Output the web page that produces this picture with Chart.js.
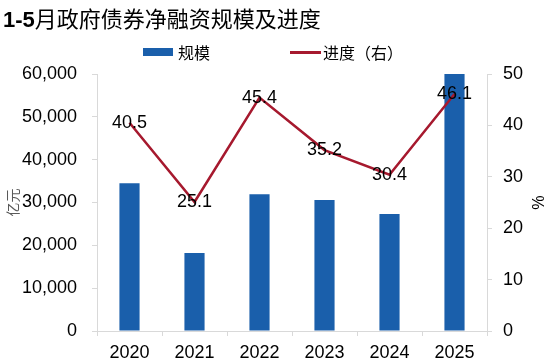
<!DOCTYPE html>
<html>
<head>
<meta charset="utf-8">
<script src="https://cdn.jsdelivr.net/npm/chart.js@4"></script>
<style>
body{margin:0;background:#fff;}
#wrap{position:relative;width:550px;height:362px;}
#title{position:absolute;left:3px;top:3px;font-size:22px;line-height:28px;color:#000;white-space:nowrap;font-family:"Noto Sans CJK SC",sans-serif;}
#title b{font-family:"Liberation Sans",Arial,sans-serif;font-weight:bold;}
.lg{position:absolute;top:41px;font-family:"Noto Sans CJK SC",sans-serif;font-size:16px;line-height:22px;color:#000;white-space:nowrap;}
.sw{position:absolute;}
</style>
</head>
<body>
<div id="wrap">
  <canvas id="c" width="550" height="362"></canvas>
  <div id="title"><b>1-5</b>月政府债券净融资规模及进度</div>
  <div class="sw" style="left:143px;top:48px;width:30px;height:8px;background:#1A5FAB"></div>
  <div class="lg" style="left:178px">规模</div>
  <div class="sw" style="left:290px;top:51px;width:31px;height:2.5px;background:#A6192E"></div>
  <div class="lg" style="left:323px">进度（右）</div>
</div>
<script>
const years=['2020','2021','2022','2023','2024','2025'];
const scaleVals=[34500,18200,31900,30600,27300,60000];
const progress=[40.5,25.1,45.4,35.2,30.4,46.1];
const leftMax=60000, leftStep=10000;
const rightMax=50, rightStep=10;

const BLUE='#1A5FAB', RED='#A6192E', AXIS='#d9d9d9';
const tickFont={family:'"Liberation Sans", Arial, sans-serif',size:18};

const pointLabels={
  id:'pointLabels',
  afterDatasetsDraw(chart){
    const ctx=chart.ctx, meta=chart.getDatasetMeta(1);
    ctx.save();
    ctx.font='18px "Liberation Sans", Arial, sans-serif';
    ctx.fillStyle='#000';
    ctx.textAlign='center';
    ctx.textBaseline='middle';
    meta.data.forEach((p,i)=>ctx.fillText(progress[i].toFixed(1),p.x,p.y));
    ctx.restore();
  }
};

new Chart(document.getElementById('c'),{
  data:{
    labels:years,
    datasets:[
      {type:'bar',label:'规模',data:scaleVals,backgroundColor:BLUE,yAxisID:'y',
       barPercentage:0.31,categoryPercentage:1,order:1},
      {type:'line',label:'进度（右）',data:progress,borderColor:RED,borderWidth:2.5,
       pointRadius:0,tension:0,yAxisID:'y1',order:0}
    ]
  },
  options:{
    responsive:false,
    animation:false,
    layout:{padding:{top:74,left:0,right:0,bottom:0}},
    plugins:{legend:{display:false},tooltip:{enabled:false}},
    scales:{
      x:{
        grid:{drawOnChartArea:false,color:AXIS,tickLength:5,offset:true},
        border:{color:AXIS},
        ticks:{font:tickFont,color:'#000',padding:6,maxRotation:0},
        afterFit(s){s.height=31;}
      },
      y:{
        position:'left',min:0,max:leftMax,
        grid:{drawOnChartArea:false,color:AXIS,tickLength:5},
        border:{color:AXIS},
        ticks:{stepSize:leftStep,font:tickFont,color:'#000',padding:15,
          callback:v=>v.toLocaleString('en-US')},
        title:{display:true,text:'亿元',color:'#595959',
          font:{family:'"Noto Sans CJK SC", sans-serif',size:14},padding:{top:4,bottom:4}},
        afterFit(s){s.width=97;}
      },
      y1:{
        position:'right',min:0,max:rightMax,
        grid:{drawOnChartArea:false,color:AXIS,tickLength:5},
        border:{color:AXIS},
        ticks:{stepSize:rightStep,font:tickFont,color:'#000',padding:11},
        title:{display:true,text:'%',color:'#000',
          font:{family:'"Liberation Sans", Arial, sans-serif',size:16},padding:{top:4,bottom:4}},
        afterFit(s){s.width=63;}
      }
    }
  },
  plugins:[pointLabels]
});
</script>
</body>
</html>
